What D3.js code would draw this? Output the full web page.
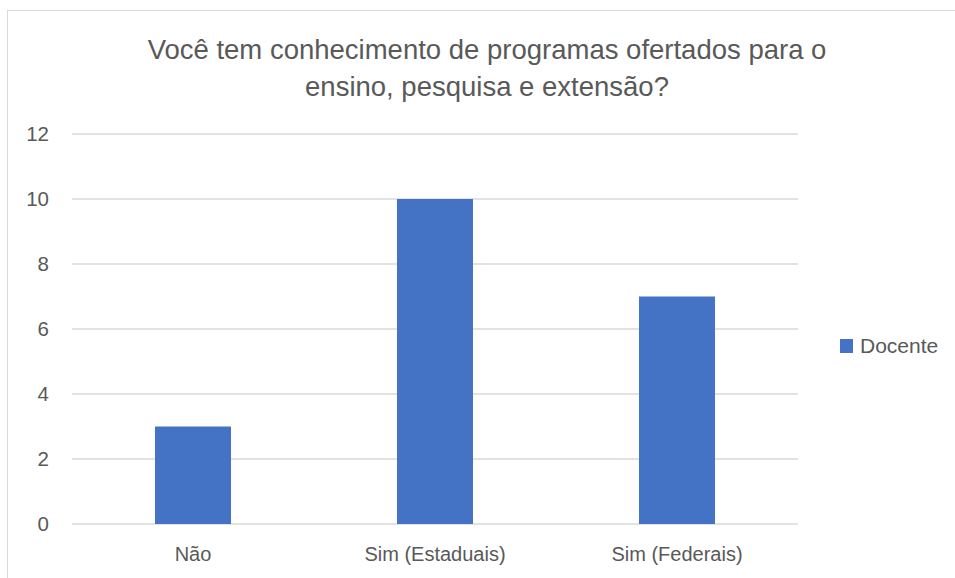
<!DOCTYPE html>
<html>
<head>
<meta charset="utf-8">
<script src="https://cdn.jsdelivr.net/npm/d3@7"></script>
<style>
  html, body { margin: 0; padding: 0; background: #fff; }
  svg { display: block; }
  text { font-family: "Liberation Sans", Arial, sans-serif; fill: #595959; }
</style>
</head>
<body>
<svg id="chart" width="955" height="578"></svg>
<script>
const titleLines = ["Você tem conhecimento de programas ofertados para o", "ensino, pesquisa e extensão?"];
const categories = ["Não", "Sim (Estaduais)", "Sim (Federais)"];
const seriesName = "Docente";
const values = [3, 10, 7];
const yTicks = [0, 2, 4, 6, 8, 10, 12];

const svg = d3.select("#chart");
const margin = { left: 72, right: 157, top: 134, bottom: 54 };
const W = 955, H = 578;

// outer chart border
svg.append("rect")
  .attr("x", 7.5).attr("y", 10.5)
  .attr("width", 1000).attr("height", 700)
  .attr("fill", "#fff").attr("stroke", "#d9d9d9").attr("stroke-width", 1);

const x = d3.scaleBand()
  .domain(categories)
  .range([margin.left, W - margin.right])
  .paddingInner(0.686)
  .paddingOuter(0.343);

const y = d3.scaleLinear()
  .domain([0, 12])
  .range([H - margin.bottom, margin.top]);

// gridlines
svg.append("g").selectAll("line")
  .data(yTicks).join("line")
  .attr("x1", margin.left).attr("x2", W - margin.right)
  .attr("y1", d => y(d)).attr("y2", d => y(d))
  .attr("stroke", "#d9d9d9").attr("stroke-width", 1.3);

// y axis labels
const yAxis = d3.axisLeft(y).tickValues(yTicks).tickSize(0).tickPadding(0);
const gy = svg.append("g").attr("transform", `translate(49,0)`).call(yAxis);
gy.select(".domain").remove();
gy.selectAll("text")
  .attr("font-size", 20.5)
  .attr("fill", "#595959")
  .style("font-family", '"Liberation Sans", Arial, sans-serif');

// bars
svg.append("g").selectAll("rect")
  .data(values).join("rect")
  .attr("x", (d, i) => x(categories[i]))
  .attr("width", x.bandwidth())
  .attr("y", d => y(d))
  .attr("height", d => y(0) - y(d))
  .attr("fill", "#4472C4");

// x axis labels
const xAxis = d3.axisBottom(x).tickSize(0).tickPadding(0);
const gx = svg.append("g").attr("transform", `translate(0,${H - margin.bottom})`).call(xAxis);
gx.select(".domain").remove();
gx.selectAll("text")
  .attr("dy", null)
  .attr("y", 37)
  .attr("font-size", 20)
  .attr("fill", "#595959")
  .style("font-family", '"Liberation Sans", Arial, sans-serif');

// title
svg.append("g").selectAll("text")
  .data(titleLines).join("text")
  .attr("x", 487)
  .attr("y", (d, i) => 59 + i * 37)
  .attr("text-anchor", "middle")
  .attr("font-size", 27.5)
  .text(d => d);

// legend
const lg = svg.append("g").attr("transform", "translate(840,339)");
lg.append("rect").attr("width", 13).attr("height", 14).attr("fill", "#4472C4");
lg.append("text").attr("x", 20).attr("y", 14).attr("font-size", 21).text(seriesName);
</script>
</body>
</html>
